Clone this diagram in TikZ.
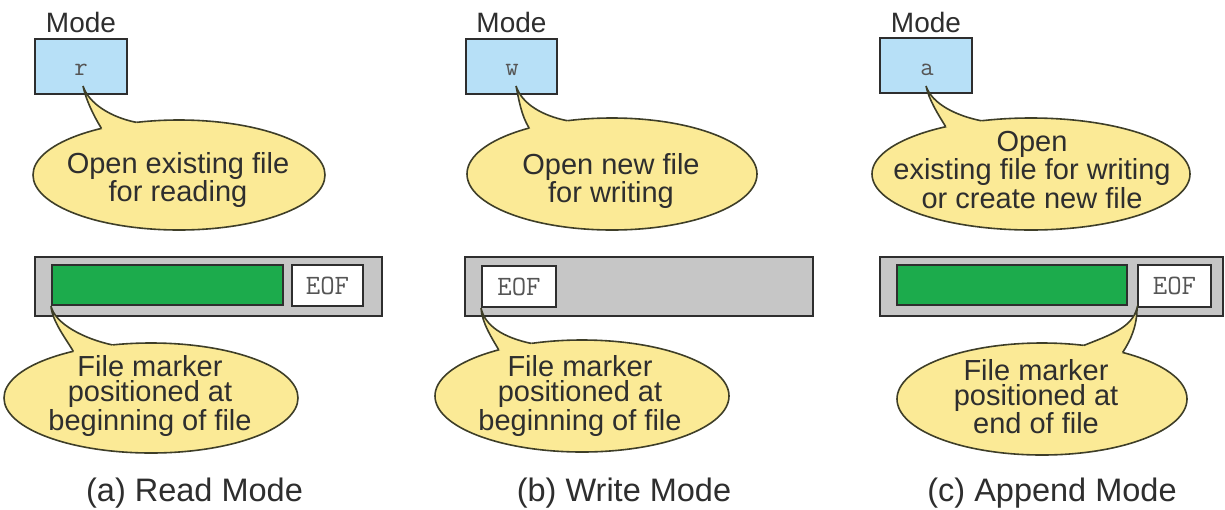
\documentclass[tikz,border=0pt]{standalone}
\usepackage{fontspec}
\setmainfont{Liberation Sans}
\usetikzlibrary{shapes.geometric,calc}
\definecolor{bubfill}{HTML}{FBEA96}
\definecolor{bubline}{HTML}{3E3E28}
\definecolor{modeblue}{HTML}{B7E0F7}
\definecolor{filegreen}{HTML}{1CAB4C}
\definecolor{bargray}{HTML}{C6C6C6}
\definecolor{ink}{HTML}{2E2E2E}
\definecolor{monogray}{HTML}{555555}
\begin{document}
\begin{tikzpicture}[x=1pt,y=-1pt,
  bubble/.style={ellipse,fill=bubfill,draw=bubline,line width=1.6pt,inner sep=0pt,outer sep=0pt},
  tailfill/.style={fill=bubfill},
  tailline/.style={draw=bubline,line width=1.6pt},
  bubtext/.style={align=center,text=ink,inner sep=0pt,font=\fontsize{29}{25}\selectfont},
  modelabel/.style={anchor=base,text=ink,inner sep=0pt,font=\fontsize{28}{30}\selectfont},
  modebox/.style={rectangle,fill=modeblue,draw=ink,line width=1.8pt,minimum width=92pt,minimum height=55pt,inner sep=0pt},
  modechar/.style={text=monogray,inner sep=0pt,font=\fontsize{26}{28}\ttfamily},
  filebar/.style={rectangle,fill=bargray,draw=ink,line width=2pt,minimum height=59pt,inner sep=0pt},
  filedata/.style={rectangle,fill=filegreen,draw=ink,line width=2pt,minimum height=40pt,inner sep=0pt},
  eofbox/.style={rectangle,fill=white,draw=ink,line width=2pt,minimum width=71pt,minimum height=41pt,inner sep=0pt,text=monogray,font=\fontsize{28}{30}\ttfamily},
  caption/.style={anchor=base,text=ink,inner sep=0pt,font=\fontsize{32.5}{38}\selectfont}
]
\fill[white] (0,0) rectangle (1225,509);
\useasboundingbox (0,0) rectangle (1225,509);

% ---------------- (a) Read Mode ----------------
\node[modelabel] (mla) at (81,32) {Mode};
\node[modebox] (mba) at (81,66.5) {};
\node[modechar] (mca) at (81,70) {r};
\coordinate (ta) at (83,86);
\node[bubble,minimum width=292pt,minimum height=110pt] (ea1) at (179,175) {};
\fill[tailfill] (ea1.149) .. controls +(-8,-13) and +(3,14) .. (ta) .. controls +(6,18) and +(-25,-5) .. (ea1.129) -- ($(ea1.129)!0.2!(ea1.center)$) -- ($(ea1.149)!0.2!(ea1.center)$) -- cycle;
\draw[tailline] (ea1.149) .. controls +(-8,-13) and +(3,14) .. (ta) .. controls +(6,18) and +(-25,-5) .. (ea1.129);
\node[bubtext] (txa1) at (178,180) {Open existing file\\for reading};

\node[filebar,minimum width=347pt] (bara) at (208.5,286.5) {};
\node[filedata,minimum width=231pt] (ga) at (167.5,285) {};
\node[eofbox] (eofa) at (327.5,285.5) {EOF};
\node[bubble,minimum width=294pt,minimum height=110pt] (ea2) at (151,398) {};
\fill[tailfill] (ea2.149) .. controls +(-7,-12) and +(1,15) .. (ga.south west) .. controls +(4,18) and +(-28,-6) .. (ea2.126) -- ($(ea2.126)!0.2!(ea2.center)$) -- ($(ea2.149)!0.2!(ea2.center)$) -- cycle;
\draw[tailline] (ea2.149) .. controls +(-7,-12) and +(1,15) .. (ga.south west) .. controls +(4,18) and +(-28,-6) .. (ea2.126);
\node[bubtext] (txa2) at (150,396) {File marker\\positioned at\\beginning of file};
\node[caption] (capa) at (194.5,501) {(a) Read Mode};

% ---------------- (b) Write Mode ----------------
\node[modelabel] (mlb) at (511.5,32) {Mode};
\node[modebox,minimum width=91pt] (mbb) at (511.5,66.5) {};
\node[modechar] (mcb) at (512,70) {w};
\coordinate (tb) at (516,86);
\node[bubble,minimum width=290pt,minimum height=112pt] (eb1) at (612,174) {};
\fill[tailfill] (eb1.151) .. controls +(-8,-13) and +(3,14) .. (tb) .. controls +(6,18) and +(-25,-5) .. (eb1.130) -- ($(eb1.130)!0.2!(eb1.center)$) -- ($(eb1.151)!0.2!(eb1.center)$) -- cycle;
\draw[tailline] (eb1.151) .. controls +(-8,-13) and +(3,14) .. (tb) .. controls +(6,18) and +(-25,-5) .. (eb1.130);
\node[bubtext] (txb1) at (611,181) {Open new file\\for writing};

\node[filebar,minimum width=348pt] (barb) at (639,286.5) {};
\node[eofbox,minimum width=74pt] (eofb) at (519,286.5) {EOF};
\node[bubble,minimum width=294pt,minimum height=112pt] (eb2) at (582,396) {};
\fill[tailfill] (eb2.151) .. controls +(-7,-12) and +(1,15) .. (eofb.south west) .. controls +(4,18) and +(-28,-6) .. (eb2.134) -- ($(eb2.134)!0.2!(eb2.center)$) -- ($(eb2.151)!0.2!(eb2.center)$) -- cycle;
\draw[tailline] (eb2.151) .. controls +(-7,-12) and +(1,15) .. (eofb.south west) .. controls +(4,18) and +(-28,-6) .. (eb2.134);
\node[bubtext] (txb2) at (580,396) {File marker\\positioned at\\beginning of file};
\node[caption] (capb) at (624,501) {(b) Write Mode};

% ---------------- (c) Append Mode ----------------
\node[modelabel] (mlc) at (926,32) {Mode};
\node[modebox] (mbc) at (926,65.5) {};
\node[modechar] (mcc) at (927,70) {a};
\coordinate (tc) at (926,86);
\node[bubble,minimum width=318pt,minimum height=112pt] (ec1) at (1031,174) {};
\fill[tailfill] (ec1.151) .. controls +(-8,-13) and +(3,14) .. (tc) .. controls +(6,18) and +(-25,-5) .. (ec1.133) -- ($(ec1.133)!0.2!(ec1.center)$) -- ($(ec1.151)!0.2!(ec1.center)$) -- cycle;
\draw[tailline] (ec1.151) .. controls +(-8,-13) and +(3,14) .. (tc) .. controls +(6,18) and +(-25,-5) .. (ec1.133);
\node[bubtext] (txc1) at (1032,170) {Open\\existing file for writing\\or create new file};

\node[filebar,minimum width=343pt] (barc) at (1051.5,286.5) {};
\node[filedata,minimum width=230pt] (gc) at (1012,285) {};
\node[eofbox,minimum width=73pt,minimum height=42pt] (eofc) at (1174.5,286) {EOF};
\node[bubble,minimum width=290pt,minimum height=112pt] (ec2) at (1042,399) {};
\fill[tailfill] (ec2.52) .. controls +(25,-10) and +(-5,20) .. (eofc.south west) .. controls +(0,18) and +(8,-12) .. (ec2.30) -- ($(ec2.30)!0.2!(ec2.center)$) -- ($(ec2.52)!0.2!(ec2.center)$) -- cycle;
\draw[tailline] (ec2.52) .. controls +(25,-10) and +(-5,20) .. (eofc.south west) .. controls +(0,18) and +(8,-12) .. (ec2.30);
\node[bubtext] (txc2) at (1036,397) {File marker\\positioned at\\end of file};
\node[caption] (capc) at (1052,501) {(c) Append Mode};
\end{tikzpicture}
\end{document}
